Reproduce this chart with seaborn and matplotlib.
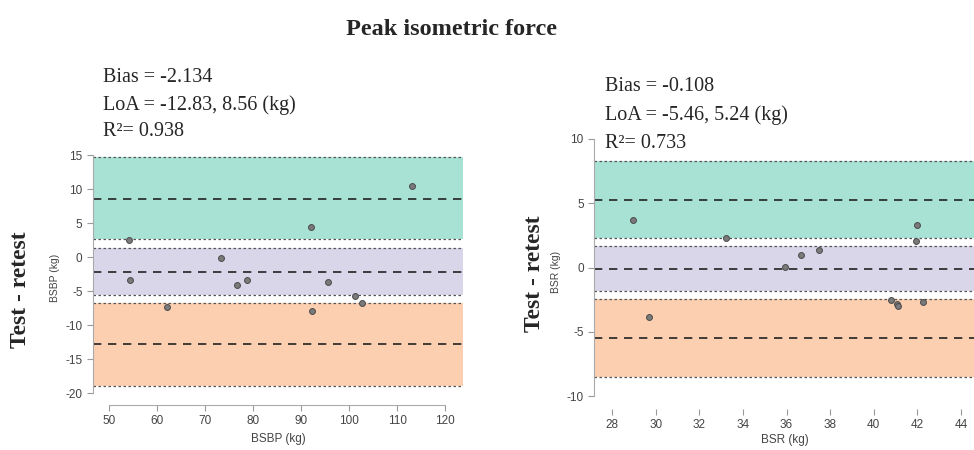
import matplotlib
matplotlib.use("Agg")
import matplotlib.pyplot as plt
import seaborn as sns
import pandas as pd

# Left panel: BSBP
bsbp_mean = [54.1, 54.5, 62.2, 73.3, 76.7, 78.8, 92.0, 92.2, 95.6, 101.3, 102.6, 113.1]
bsbp_diff = [2.43, -3.36, -7.39, -0.12, -4.05, -3.41, 4.35, -7.97, -3.66, -5.77, -6.70, 10.48]
bsbp_bias = -2.134
bsbp_loa = [-12.83, 8.56]
bsbp_bias_ci = [-5.6, 1.4]
bsbp_low_ci = [-18.9, -6.8]
bsbp_up_ci = [2.6, 14.75]
bsbp_r2 = 0.938

# Right panel: BSR
bsr_mean = [28.95, 29.7, 33.2, 35.94, 36.65, 37.5, 40.77, 41.06, 41.09, 41.92, 42.0, 42.27]
bsr_diff = [3.67, -3.88, 2.27, 0.01, 1.0, 1.34, -2.53, -2.81, -2.97, 2.06, 3.31, -2.71]
bsr_bias = -0.108
bsr_loa = [-5.46, 5.24]
bsr_bias_ci = [-1.83, 1.65]
bsr_low_ci = [-8.5, -2.45]
bsr_up_ci = [2.27, 8.29]
bsr_r2 = 0.733

sns.set_style("white")
plt.rcParams["font.family"] = ["Liberation Sans", "DejaVu Sans"]
plt.rcParams["axes.unicode_minus"] = False

GREEN = "#a8e2d4"
PURPLE = "#d9d6ea"
ORANGE = "#fdcfb1"
SERIF = ["Liberation Serif", "DejaVu Serif"]

fig = plt.figure(figsize=(9.74, 4.5), dpi=100)
ax1 = fig.add_axes([0.0955, 0.1, 0.380, 0.5667])
ax2 = fig.add_axes([0.6099, 0.0911, 0.392, 0.6089])


def ba_panel(ax, x, d, bias, loa, bias_ci, low_ci, up_ci, xlim, ylim, xb, yb, xticks, yticks, label):
    ax.axhspan(up_ci[0], up_ci[1], color=GREEN, lw=0, zorder=0)
    ax.axhspan(bias_ci[0], bias_ci[1], color=PURPLE, lw=0, zorder=0)
    ax.axhspan(low_ci[0], low_ci[1], color=ORANGE, lw=0, zorder=0)
    for v in up_ci + bias_ci + low_ci:
        ax.axhline(v, color="#555555", lw=0.9, ls=(0, (2, 2)), zorder=1)
    for v in [loa[0], bias, loa[1]]:
        ax.axhline(v, color="#222222", lw=1.2, ls=(0, (5, 4)), zorder=2)
    df = pd.DataFrame({"x": x, "d": d})
    sns.scatterplot(data=df, x="x", y="d", ax=ax, color="#7a7a7a", edgecolor="#4a4a4a",
                    s=18, linewidth=0.7, zorder=3)
    ax.set_xlim(*xlim)
    ax.set_ylim(*ylim)
    ax.set_xticks(xticks)
    ax.set_yticks(yticks)
    ax.spines["top"].set_visible(False)
    ax.spines["right"].set_visible(False)
    for s in ["left", "bottom"]:
        ax.spines[s].set_color("#aaaaaa")
        ax.spines[s].set_linewidth(0.8)
    ax.spines["bottom"].set_bounds(*xb)
    ax.spines["left"].set_bounds(*yb)
    ax.tick_params(axis="both", direction="out", length=4, width=0.8, color="#999999",
                   labelsize=8.5, labelcolor="#444444", bottom=True, left=True)
    ax.set_xlabel(label, fontsize=8.5, color="#444444", labelpad=4)
    ax.set_ylabel(label, fontsize=7.5, color="#444444", labelpad=4)


ba_panel(ax1, bsbp_mean, bsbp_diff, bsbp_bias, bsbp_loa, bsbp_bias_ci, bsbp_low_ci, bsbp_up_ci,
         (46.7, 123.75), (-21.76, 15.74), (50, 120), (-20, 15),
         range(50, 121, 10), range(-20, 16, 5), "BSBP (kg)")
ba_panel(ax2, bsr_mean, bsr_diff, bsr_bias, bsr_loa, bsr_bias_ci, bsr_low_ci, bsr_up_ci,
         (27.17, 44.68), (-11.01, 10.31), (28, 44), (-10, 10),
         range(28, 45, 2), range(-10, 11, 5), "BSR (kg)")
ax2.spines["bottom"].set_visible(False)
ax2.xaxis.labelpad = 2

fig.text(0.464, 0.935, "Peak isometric force", ha="center", va="center",
         fontsize=17.5, fontweight="bold", family=SERIF)

fig.text(0.106, 0.827, f"Bias = {bsbp_bias}", fontsize=14.5, family=SERIF, va="center")
fig.text(0.106, 0.767, f"LoA = {bsbp_loa[0]}, {bsbp_loa[1]} (kg)", fontsize=14.5, family=SERIF, va="center")
fig.text(0.106, 0.707, f"R\u00b2= {bsbp_r2}", fontsize=14.5, family=SERIF, va="center")

fig.text(0.621, 0.807, f"Bias = {bsr_bias}", fontsize=14.5, family=SERIF, va="center")
fig.text(0.621, 0.745, f"LoA = {bsr_loa[0]}, {bsr_loa[1]} (kg)", fontsize=14.5, family=SERIF, va="center")
fig.text(0.621, 0.680, f"R\u00b2= {bsr_r2}", fontsize=14.5, family=SERIF, va="center")

fig.text(0.021, 0.356, "Test - retest", rotation=90, ha="center", va="center",
         fontsize=17, fontweight="bold", family=SERIF)
fig.text(0.549, 0.392, "Test - retest", rotation=90, ha="center", va="center",
         fontsize=17, fontweight="bold", family=SERIF)

fig.savefig("out.png", dpi=100)
